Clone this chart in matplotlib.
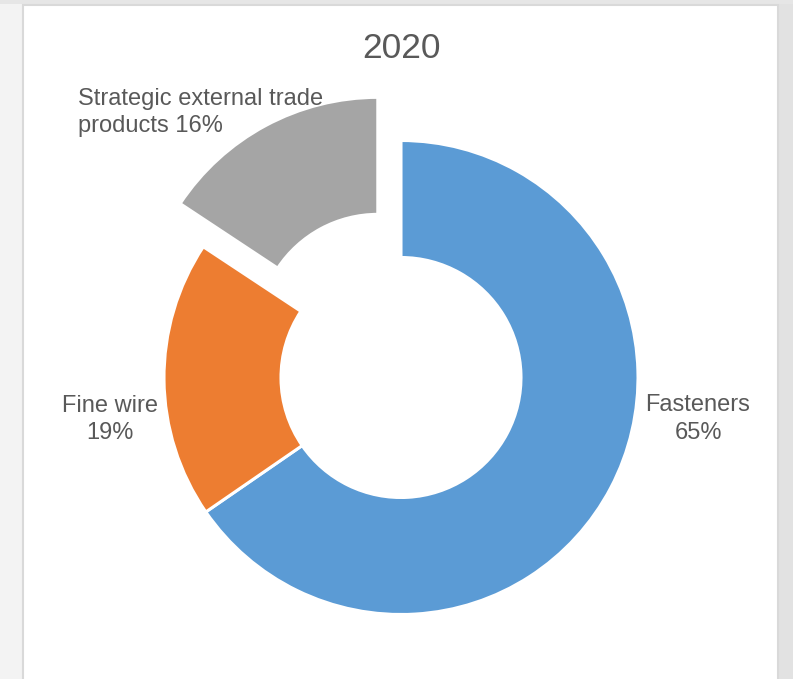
import matplotlib
matplotlib.use("Agg")
import matplotlib.pyplot as plt
from matplotlib.patches import Rectangle

plt.rcParams['font.family'] = ['Liberation Sans', 'DejaVu Sans']

title = "2020"
categories = ["Fasteners", "Fine wire", "Strategic external trade\nproducts"]
shares = [65.4, 18.9, 15.7]
share_labels = ["65%", "19%", "16%"]
colors = ["#5B9BD5", "#ED7D31", "#A5A5A5"]
explode_px = [0, 0, 49]

W, H = 793, 679
fig = plt.figure(figsize=(W / 100, H / 100), dpi=100)
fig.patch.set_facecolor("#f3f3f3")
ax = fig.add_axes([0, 0, 1, 1])
ax.set_facecolor("#f3f3f3")

def py(y):
    return H - y

# background panels
ax.add_patch(Rectangle((779, 0), W - 779, H, facecolor="#e2e2e2", edgecolor="none", zorder=0))
ax.add_patch(Rectangle((0, py(4)), W, 4, facecolor="#e6e6e6", edgecolor="none", zorder=0))
ax.add_patch(Rectangle((23, -5), 755, py(5) + 5, facecolor="white", edgecolor="#d9d9d9",
                       linewidth=1.5, zorder=1))

cx, cy = 401, py(377.5)
R = 237
width = 117

wedges, _ = ax.pie(shares, radius=R, center=(cx, cy), startangle=90, counterclock=False,
                   explode=explode_px, colors=colors,
                   wedgeprops=dict(width=width, edgecolor="white", linewidth=2.2))
for w in wedges:
    w.set_zorder(2)

ax.set_xlim(0, W)
ax.set_ylim(0, H)
ax.set_aspect('auto')
ax.axis('off')

tc = "#595959"
ax.text(cx, py(57.5), title, ha='center', va='baseline', fontsize=25.5, color=tc, zorder=3)

ax.text(698, py(419), f"{categories[0]}\n{share_labels[0]}", ha='center', va='center',
        fontsize=17, color=tc, linespacing=1.35, zorder=3)
ax.text(110, py(419.5), f"{categories[1]}\n{share_labels[1]}", ha='center', va='center',
        fontsize=17, color=tc, linespacing=1.35, zorder=3)
ax.text(78, py(112.5), f"{categories[2]} {share_labels[2]}", ha='left', va='center',
        fontsize=17, color=tc, linespacing=1.35, zorder=3)

fig.savefig("out.png", dpi=100, facecolor=fig.get_facecolor())
